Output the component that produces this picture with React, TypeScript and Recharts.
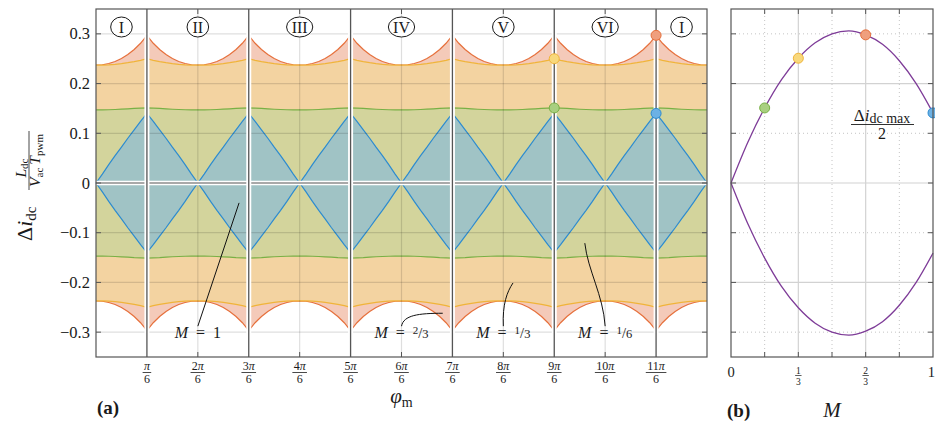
import React from "react"
import {
  ComposedChart,
  Area,
  Line,
  XAxis,
  YAxis,
  ReferenceLine,
  ReferenceDot,
} from "recharts"

// offsets from a sector centre, in units of pi/6 (0 = centre, 1 = sector edge)
const sectorOffsets = [0, 0.125, 0.25, 0.375, 0.5, 0.625, 0.75, 0.875, 1]

// normalised ripple envelope over half a sector, one list per modulation index
const rippleM1 = [0, 0.018, 0.037, 0.055, 0.072, 0.09, 0.107, 0.124, 0.14]
const rippleM16 = [0.147, 0.147, 0.1473, 0.1478, 0.1484, 0.1492, 0.15, 0.1505, 0.151]
const rippleM13 = [0.237, 0.2372, 0.2378, 0.2388, 0.2402, 0.242, 0.2442, 0.2468, 0.25]
const rippleM23 = [0.237, 0.2378, 0.2403, 0.2445, 0.2505, 0.2585, 0.2685, 0.281, 0.297]

const sectorEdges = [1, 3, 5, 7, 9, 11]
const sectorCentres = [0.5, 2, 4, 6, 8, 10, 11.5]
const sectorNames = ["I", "II", "III", "IV", "V", "VI", "I"]
const phiTicks = [1, 2, 3, 4, 5, 6, 7, 8, 9, 10, 11]
const gridPhi = [2, 4, 6, 8, 10]
const rippleTicks = [-0.3, -0.2, -0.1, 0, 0.1, 0.2, 0.3]

// (b) half of the max ripple vs modulation index
const mValues = [0, 1 / 12, 2 / 12, 3 / 12, 4 / 12, 5 / 12, 6 / 12, 7 / 12, 8 / 12, 9 / 12, 10 / 12, 11 / 12, 1]
const rippleMax = [0, 0.082, 0.151, 0.208, 0.251, 0.282, 0.3, 0.306, 0.298, 0.279, 0.246, 0.2, 0.141]
const mTicks = [0, 1 / 3, 2 / 3, 1]
const mMajor = [1 / 3, 2 / 3]
const mMinor = [1 / 6, 1 / 2, 5 / 6]

const FONT = "Liberation Serif, DejaVu Serif, serif"
const INK = "#1a1a1a"

const C = {
  m23: { line: "#e6703c", fill: "#f4cab9", dot: "#ef9f7e" },
  m13: { line: "#f0b43a", fill: "#f3d3a1", dot: "#f8d87c" },
  m16: { line: "#79b045", fill: "#d3d49c", dot: "#a9cf80" },
  m1: { line: "#2c8bd0", fill: "#a0c3c5", dot: "#6cb1e4" },
}

// build the phase table by mirroring the half-sector readings
const steps = sectorOffsets.length - 1
const phiData: any[] = []
for (let i = 0; i <= 12 * steps; i++) {
  const phi = i / steps
  const centre = Math.round(phi / 2) * 2
  const off = Math.abs(phi - centre)
  const j = sectorOffsets.findIndex((o) => Math.abs(o - off) < 1e-6)
  phiData.push({
    phi,
    m23: [-rippleM23[j], rippleM23[j]],
    m13: [-rippleM13[j], rippleM13[j]],
    m16: [-rippleM16[j], rippleM16[j]],
    m1: [-rippleM1[j], rippleM1[j]],
  })
}

const mData = mValues.map((m, i) => ({ m, up: rippleMax[i], down: -rippleMax[i] }))

// plot boxes (for the decoration overlay)
const A = { l: 96, r: 707, t: 9, b: 357 }
const B = { l: 731, r: 933, t: 9, b: 357 }
const ax = (p: number) => A.l + (p / 12) * (A.r - A.l)
const ay = (v: number) => A.t + ((0.35 - v) / 0.7) * (A.b - A.t)
const bx = (m: number) => B.l + m * (B.r - B.l)

const fmt = (v: number) =>
  v === 0 ? "0" : v < 0 ? "\u2212" + Math.abs(v).toFixed(1) : v.toFixed(1)

const YTick = (props: any) => {
  const { x, y, payload } = props
  return (
    <text x={x} y={y + 5.5} textAnchor="end" style={{ fontFamily: FONT }} fontSize={16.5} fill={INK}>
      {fmt(payload.value)}
    </text>
  )
}

const PhiTick = (props: any) => {
  const { x, y, payload } = props
  const k = payload.value
  const w = (k === 1 ? 0 : String(k).length * 6) + 6.6
  return (
    <g style={{ fontFamily: FONT }} fill={INK}>
      <text x={x} y={y + 13} textAnchor="middle" fontSize={12}>
        {k === 1 ? "" : k}
        <tspan fontStyle="italic">π</tspan>
      </text>
      <line x1={x - w / 2 - 1} x2={x + w / 2 + 1} y1={y + 15.5} y2={y + 15.5} stroke={INK} strokeWidth={0.8} />
      <text x={x} y={y + 26} textAnchor="middle" fontSize={12}>
        6
      </text>
    </g>
  )
}

const MTick = (props: any) => {
  const { x, y, payload } = props
  const v = payload.value
  if (v === 0 || v === 1)
    return (
      <text
        x={v === 1 ? x + 2 : x}
        y={y + 20}
        textAnchor={v === 1 ? "end" : "middle"}
        style={{ fontFamily: FONT }}
        fontSize={14.5}
        fill={INK}
      >
        {v}
      </text>
    )
  return (
    <g style={{ fontFamily: FONT }} fill={INK}>
      <text x={x} y={y + 16.5} textAnchor="middle" fontSize={9.5}>
        {Math.round(v * 3)}
      </text>
      <line x1={x - 3.2} x2={x + 3.2} y1={y + 18.5} y2={y + 18.5} stroke={INK} strokeWidth={0.7} />
      <text x={x} y={y + 28} textAnchor="middle" fontSize={9.5}>
        3
      </text>
    </g>
  )
}

const annotations = [
  { at: 2, num: "", den: "1", tip: [2.81, -0.04], kind: "straight" },
  { at: 6, num: "2", den: "3", tip: [6.81, -0.262], kind: "hook" },
  { at: 8, num: "1", den: "3", tip: [8.19, -0.201], kind: "bend" },
  { at: 10, num: "1", den: "6", tip: [9.6, -0.121], kind: "s" },
]

function leader(a: any) {
  const sx = ax(a.at)
  const sy = ay(-0.288)
  const ex = ax(a.tip[0])
  const ey = ay(a.tip[1])
  if (a.kind === "straight") return `M${sx},${sy} L${ex},${ey}`
  if (a.kind === "hook") return `M${sx},${sy} C${sx + 2},${sy - 11} ${sx + 17},${ey} ${ex},${ey}`
  if (a.kind === "bend") return `M${sx},${sy} C${sx - 1},${sy - 22} ${ex - 6},${ey + 9} ${ex},${ey}`
  return `M${sx},${sy} C${sx - 2},${sy - 31} ${ex + 3},${ey + 27} ${ex},${ey}`
}

function Overlay() {
  const ticks: React.ReactNode[] = []
  gridPhi.forEach((p) => {
    ticks.push(<line key={"tb" + p} x1={ax(p)} x2={ax(p)} y1={A.b} y2={A.b - 5} />)
    ticks.push(<line key={"tt" + p} x1={ax(p)} x2={ax(p)} y1={A.t} y2={A.t + 5} />)
  })
  rippleTicks.forEach((v) => {
    ticks.push(<line key={"al" + v} x1={A.l} x2={A.l + 5} y1={ay(v)} y2={ay(v)} />)
    ticks.push(<line key={"ar" + v} x1={A.r} x2={A.r - 5} y1={ay(v)} y2={ay(v)} />)
    ticks.push(<line key={"bl" + v} x1={B.l} x2={B.l + 5} y1={ay(v)} y2={ay(v)} />)
    ticks.push(<line key={"br" + v} x1={B.r} x2={B.r - 5} y1={ay(v)} y2={ay(v)} />)
  })
  ;[1, 2, 3, 4, 5].forEach((k) => {
    ticks.push(<line key={"bb" + k} x1={bx(k / 6)} x2={bx(k / 6)} y1={B.b} y2={B.b - 5} />)
    ticks.push(<line key={"bt" + k} x1={bx(k / 6)} x2={bx(k / 6)} y1={B.t} y2={B.t + 5} />)
  })

  return (
    <svg
      width={935}
      height={423}
      style={{ position: "absolute", left: 0, top: 0, pointerEvents: "none", fontFamily: FONT }}
    >
      <g stroke="#555" strokeWidth={1}>
        {ticks}
      </g>
      <rect x={A.l} y={A.t} width={A.r - A.l} height={A.b - A.t} fill="none" stroke="#555" strokeWidth={1.2} />
      <rect x={B.l} y={B.t} width={B.r - B.l} height={B.b - B.t} fill="none" stroke="#555" strokeWidth={1.2} />

      {/* sector names */}
      {sectorCentres.map((p, i) => {
        const n = sectorNames[i]
        const w = n.length * 5.4 + (n.includes("V") ? 5.5 : 0)
        const rx = Math.max(10.8, w / 2 + 5)
        return (
          <g key={"s" + i}>
            <ellipse cx={ax(p)} cy={27} rx={rx} ry={10} fill="#fff" stroke={INK} strokeWidth={1} />
            <text x={ax(p)} y={32.5} textAnchor="middle" fontSize={16} fill={INK}>
              {n}
            </text>
          </g>
        )
      })}

      {/* modulation index labels */}
      {annotations.map((a, i) => (
        <g key={"a" + i}>
          <path d={leader(a)} fill="none" stroke="#111" strokeWidth={1} />
          <text x={ax(a.at)} y={338} textAnchor="middle" fontSize={16} fill={INK}>
            <tspan fontStyle="italic">M</tspan>
            {"\u2002=\u2002"}
            {a.num ? (
              <>
                <tspan fontSize={11} dy={-4}>
                  {a.num}
                </tspan>
                <tspan fontSize={14.5} dy={4}>
                  /
                </tspan>
                <tspan fontSize={12.5}>{a.den}</tspan>
              </>
            ) : (
              a.den
            )}
          </text>
        </g>
      ))}

      {/* y label, rotated: local x = -screenY, local y = screenX */}
      <g transform="rotate(-90)" fill={INK}>
        <text x={-241} y={32} fontSize={22}>
          Δ<tspan fontStyle="italic">i</tspan>
          <tspan fontSize={15} dy={3.5}>
            dc
          </tspan>
        </text>
        <text x={-168} y={25.5} textAnchor="middle" fontSize={15.5}>
          <tspan fontStyle="italic">L</tspan>
          <tspan fontSize={11} dy={2.5}>
            dc
          </tspan>
        </text>
        <line x1={-190} x2={-131} y1={29} y2={29} stroke={INK} strokeWidth={0.8} />
        <text x={-160.5} y={40} textAnchor="middle" fontSize={15.5}>
          <tspan fontStyle="italic">V</tspan>
          <tspan fontSize={11} dy={2.5}>
            ac
          </tspan>
          <tspan fontStyle="italic" dx={3} dy={-2.5}>
            T
          </tspan>
          <tspan fontSize={11} dy={2.5}>
            pwm
          </tspan>
        </text>
      </g>

      {/* x labels */}
      <text x={ax(6)} y={403} textAnchor="middle" fontSize={21} fill={INK}>
        <tspan fontStyle="italic">φ</tspan>
        <tspan fontSize={14} dy={4}>
          m
        </tspan>
      </text>
      <text x={97} y={414} fontSize={19} fontWeight="bold" fill={INK}>
        (a)
      </text>
      <text x={727} y={417} fontSize={19} fontWeight="bold" fill={INK}>
        (b)
      </text>
      <text x={bx(0.5)} y={417} textAnchor="middle" fontSize={21} fontStyle="italic" fill={INK}>
        M
      </text>

      {/* panel b curve label */}
      <text x={882} y={121} textAnchor="middle" fontSize={17} fill={INK}>
        Δ<tspan fontStyle="italic">i</tspan>
        <tspan fontSize={14} dy={2}>
          dc max
        </tspan>
      </text>
      <line x1={851} x2={914} y1={124.5} y2={124.5} stroke={INK} strokeWidth={0.9} />
      <text x={882} y={139} textAnchor="middle" fontSize={16} fill={INK}>
        2
      </text>
    </svg>
  )
}

export default function App() {
  const grid = "rgba(0,0,0,0.13)"
  return (
    <div
      style={{
        position: "absolute",
        left: 0,
        top: 0,
        width: 935,
        height: 423,
        background: "#fff",
        fontFamily: FONT,
      }}
    >
      <div style={{ position: "absolute", left: 0, top: 0 }}>
        <ComposedChart width={720} height={423} data={phiData} margin={{ top: 9, right: 13, bottom: 0, left: 0 }}>
          <XAxis
            dataKey="phi"
            type="number"
            domain={[0, 12]}
            ticks={phiTicks}
            interval={0}
            height={66}
            tickSize={0}
            tickMargin={0}
            axisLine={false}
            tick={PhiTick}
          />
          <YAxis
            type="number"
            domain={[-0.35, 0.35]}
            ticks={rippleTicks}
            interval={0}
            width={96}
            tickSize={0}
            tickMargin={6}
            axisLine={false}
            tick={YTick}
          />

          <Area dataKey="m23" type="linear" stroke={C.m23.line} strokeWidth={1.2} fill={C.m23.fill} fillOpacity={1} isAnimationActive={false} />
          <Area dataKey="m13" type="linear" stroke={C.m13.line} strokeWidth={1.2} fill={C.m13.fill} fillOpacity={1} isAnimationActive={false} />
          <Area dataKey="m16" type="linear" stroke={C.m16.line} strokeWidth={1.2} fill={C.m16.fill} fillOpacity={1} isAnimationActive={false} />
          <Area dataKey="m1" type="linear" stroke={C.m1.line} strokeWidth={1.2} fill={C.m1.fill} fillOpacity={1} isAnimationActive={false} />

          {/* grid */}
          {rippleTicks.map((v) => (
            <ReferenceLine key={"gy" + v} y={v} stroke={grid} strokeWidth={1.2} />
          ))}
          {gridPhi.map((p) => (
            <ReferenceLine key={"gx" + p} x={p} stroke={grid} strokeWidth={1.2} />
          ))}

          {/* sector borders and zero line */}
          <ReferenceLine y={0} stroke="#fff" strokeWidth={4.5} />
          <ReferenceLine y={0} stroke="#555" strokeWidth={1.2} />
          {sectorEdges.map((p) => (
            <ReferenceLine key={"sw" + p} x={p} stroke="#fff" strokeWidth={5} />
          ))}
          {sectorEdges.map((p) => (
            <ReferenceLine key={"sg" + p} x={p} stroke="#555" strokeWidth={1.3} />
          ))}

          <ReferenceDot x={11} y={rippleM23[steps]} r={5} fill={C.m23.dot} stroke={C.m23.line} strokeWidth={1} />
          <ReferenceDot x={11} y={rippleM1[steps]} r={5} fill={C.m1.dot} stroke={C.m1.line} strokeWidth={1} />
          <ReferenceDot x={9} y={rippleM13[steps]} r={5} fill={C.m13.dot} stroke={C.m13.line} strokeWidth={1} />
          <ReferenceDot x={9} y={rippleM16[steps]} r={5} fill={C.m16.dot} stroke={C.m16.line} strokeWidth={1} />
        </ComposedChart>
      </div>

      <div style={{ position: "absolute", left: 720, top: 0 }}>
        <ComposedChart width={215} height={423} data={mData} margin={{ top: 9, right: 2, bottom: 0, left: 11 }}>
          <XAxis
            dataKey="m"
            type="number"
            domain={[0, 1]}
            ticks={mTicks}
            interval={0}
            height={66}
            tickSize={0}
            tickMargin={0}
            axisLine={false}
            tick={MTick}
          />
          <YAxis type="number" domain={[-0.35, 0.35]} hide />

          {[0.2, 0, -0.2].map((v) => (
            <ReferenceLine key={"bmy" + v} y={v} stroke="#d2d2d2" strokeWidth={1.2} />
          ))}
          {[0.3, 0.1, -0.1, -0.3].map((v) => (
            <ReferenceLine key={"bny" + v} y={v} stroke="#c4c4c4" strokeWidth={1} strokeDasharray="1 3" />
          ))}
          {mMajor.map((m) => (
            <ReferenceLine key={"bmx" + m} x={m} stroke="#d2d2d2" strokeWidth={1.2} />
          ))}
          {mMinor.map((m) => (
            <ReferenceLine key={"bnx" + m} x={m} stroke="#c4c4c4" strokeWidth={1} strokeDasharray="1 3" />
          ))}

          <Line dataKey="up" type="monotone" stroke="#7e3c98" strokeWidth={1.3} dot={false} isAnimationActive={false} />
          <Line dataKey="down" type="monotone" stroke="#7e3c98" strokeWidth={1.3} dot={false} isAnimationActive={false} />

          <ReferenceDot x={mValues[2]} y={rippleMax[2]} r={5} fill={C.m16.dot} stroke={C.m16.line} strokeWidth={1} />
          <ReferenceDot x={mValues[4]} y={rippleMax[4]} r={5} fill={C.m13.dot} stroke={C.m13.line} strokeWidth={1} />
          <ReferenceDot x={mValues[8]} y={rippleMax[8]} r={5} fill={C.m23.dot} stroke={C.m23.line} strokeWidth={1} />
          <ReferenceDot x={mValues[12]} y={rippleMax[12]} r={5} fill={C.m1.dot} stroke={C.m1.line} strokeWidth={1} />
        </ComposedChart>
      </div>

      <Overlay />
    </div>
  )
}
